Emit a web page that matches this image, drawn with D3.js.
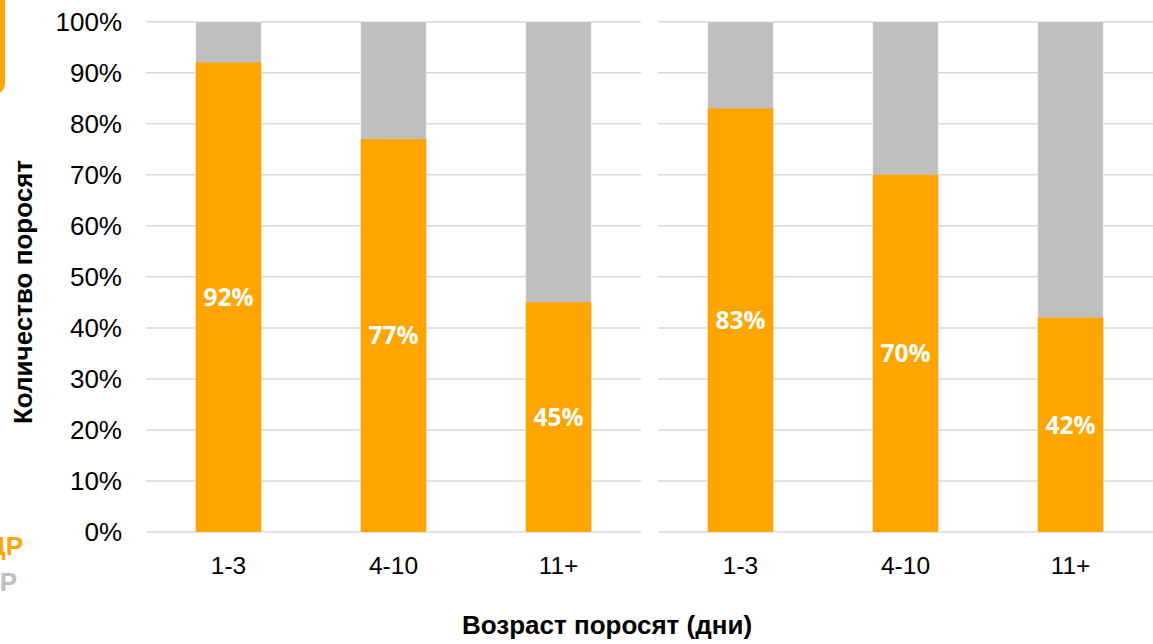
<!DOCTYPE html>
<html><head><meta charset="utf-8">
<script src="https://cdn.jsdelivr.net/npm/d3@7"></script>
<style>body{margin:0;background:#fff;}svg{display:block;}</style>
</head><body>
<svg id="c" width="1153" height="644"></svg>
<script>
const categories = ["1-3", "4-10", "11+"];
const panelA = [92, 77, 45];
const panelB = [83, 70, 42];
const yTicks = [0, 10, 20, 30, 40, 50, 60, 70, 80, 90, 100];
const yTitle = "Количество поросят";
const xTitle = "Возраст поросят (дни)";
const legendA = "ДР";
const legendB = "Р";

const ORANGE = "#FFA500", GRAY = "#BFBFBF", GRID = "#D9D9D9";
const svg = d3.select("#c");
const plotTop = 21.7, plotBottom = 532;
const y = d3.scaleLinear().domain([0, 100]).range([plotBottom, plotTop]);

const panels = [
  {data: panelA, x0: 146, x1: 641},
  {data: panelB, x0: 658, x1: 1153}
];

// gridlines
panels.forEach(p => {
  svg.append("g").selectAll("line").data(yTicks).join("line")
    .attr("x1", p.x0).attr("x2", p.x1)
    .attr("y1", d => y(d)).attr("y2", d => y(d))
    .attr("stroke", GRID).attr("stroke-width", 1.5);
});

// y axis labels
const yAxis = d3.axisLeft(y).tickValues(yTicks).tickFormat(d => d + "%").tickSize(0).tickPadding(0);
const ga = svg.append("g").attr("transform", "translate(122,0)").call(yAxis);
ga.select(".domain").remove();
ga.selectAll("text").attr("font-family", "Liberation Sans, Arial, sans-serif")
  .attr("font-size", 26).attr("fill", "#000");

panels.forEach(p => {
  const x = d3.scaleBand().domain(categories).range([p.x0, p.x1]).paddingInner(0.603).paddingOuter(0.3015);
  const g = svg.append("g");
  g.selectAll("rect.bg").data(categories).join("rect")
    .attr("x", d => x(d)).attr("width", x.bandwidth())
    .attr("y", y(100)).attr("height", y(0) - y(100))
    .attr("fill", GRAY).attr("stroke", "#f2f2f2").attr("stroke-width", 0.8);
  g.selectAll("rect.fg").data(p.data).join("rect")
    .attr("x", (d, i) => x(categories[i])).attr("width", x.bandwidth())
    .attr("y", d => y(d)).attr("height", d => y(0) - y(d))
    .attr("fill", ORANGE);
  g.selectAll("text.lbl").data(p.data).join("text")
    .attr("x", (d, i) => x(categories[i]) + x.bandwidth() / 2)
    .attr("y", d => (y(d) + y(0)) / 2)
    .attr("dy", "0.36em")
    .attr("text-anchor", "middle")
    .attr("font-family", "Open Sans, sans-serif").attr("font-weight", "bold")
    .attr("font-size", 24.5).attr("fill", "#fff")
    .text(d => d + "%");
  const xAxis = d3.axisBottom(x).tickSize(0).tickPadding(0);
  const gx = svg.append("g").attr("transform", `translate(0,${plotBottom + 42})`).call(xAxis);
  gx.select(".domain").remove();
  gx.selectAll("text").attr("dy", 0).attr("font-family", "Liberation Sans, Arial, sans-serif")
    .attr("font-size", 24.5).attr("fill", "#000");
});

// titles
svg.append("text").attr("transform", "translate(32,292) rotate(-90)")
  .attr("text-anchor", "middle").attr("font-family", "Liberation Sans, Arial, sans-serif")
  .attr("font-weight", "bold").attr("font-size", 26).attr("fill", "#000").text(yTitle);
svg.append("text").attr("x", 607).attr("y", 634)
  .attr("text-anchor", "middle").attr("font-family", "Liberation Sans, Arial, sans-serif")
  .attr("font-weight", "bold").attr("font-size", 26).attr("fill", "#000").text(xTitle);

// cut-off legend pieces on the left edge
svg.append("rect").attr("x", -40).attr("y", -20).attr("width", 45).attr("height", 115)
  .attr("rx", 12).attr("fill", ORANGE);
svg.append("text").attr("x", 23).attr("y", 555).attr("text-anchor", "end")
  .attr("font-family", "Liberation Sans, Arial, sans-serif").attr("font-weight", "bold")
  .attr("font-size", 26).attr("fill", ORANGE).text(legendA);
svg.append("text").attr("x", 17).attr("y", 591).attr("text-anchor", "end")
  .attr("font-family", "Liberation Sans, Arial, sans-serif").attr("font-weight", "bold")
  .attr("font-size", 26).attr("fill", GRAY).text(legendB);
</script>
</body></html>
